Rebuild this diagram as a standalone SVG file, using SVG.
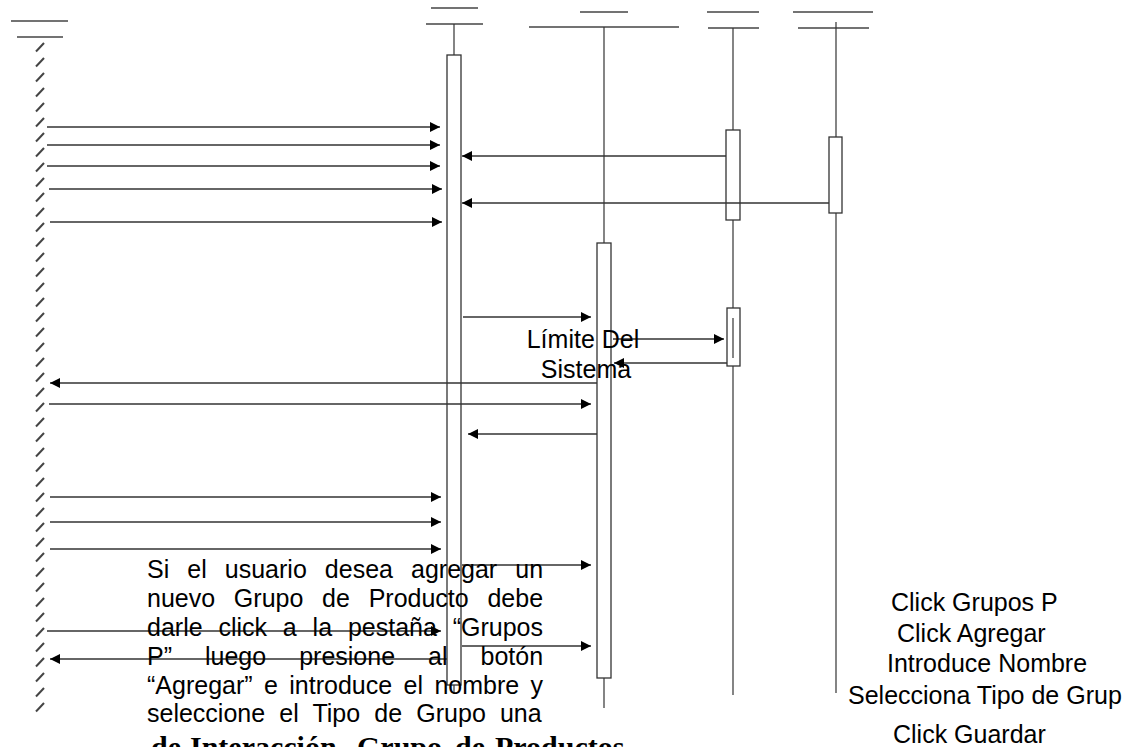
<svg xmlns="http://www.w3.org/2000/svg" width="1125" height="747" viewBox="0 0 1125 747">
<style>
.hd{stroke:#444;stroke-width:1.3;fill:none}
.ll{stroke:#333;stroke-width:1.2;fill:none}
.act{fill:#fff;stroke:#333;stroke-width:1.3}
.msg{stroke:#333;stroke-width:1.3;fill:none;marker-end:url(#ah)}
.t{font-family:"Liberation Sans",Arial,sans-serif;font-size:25px;fill:#000}
.cap{font-family:"Liberation Serif","Times New Roman",serif;font-size:30px;font-weight:bold;fill:#000}
</style>
<defs>
<marker id="ah" markerUnits="userSpaceOnUse" markerWidth="11" markerHeight="11" refX="10" refY="5" orient="auto">
<path d="M0,0 L10,5 L0,10 z" fill="#000"/>
</marker>
<pattern id="hatch" patternUnits="userSpaceOnUse" x="35" y="40" width="10" height="15">
<line x1="1" y1="11.5" x2="9" y2="3" stroke="#444" stroke-width="2"/>
</pattern>
</defs>
<rect width="1125" height="747" fill="#fff"/>

<g id="actor">
<line class="hd" x1="11" y1="21" x2="68" y2="21"/>
<line class="hd" x1="17" y1="37" x2="63" y2="37"/>
<rect x="35" y="40" width="10" height="676" fill="url(#hatch)"/>
</g>

<g id="lifeline2">
<line class="hd" x1="431" y1="8" x2="478" y2="8"/>
<line class="hd" x1="426" y1="24" x2="483" y2="24"/>
<line class="ll" x1="454" y1="24" x2="454" y2="693"/>
<rect class="act" x="447" y="55" width="14" height="630"/>
</g>

<g id="lifeline3">
<line class="hd" x1="580" y1="12" x2="628" y2="12"/>
<line class="hd" x1="529" y1="27" x2="679" y2="27"/>
<line class="ll" x1="604" y1="27" x2="604" y2="708"/>
<rect class="act" x="597" y="243" width="14" height="435"/>
</g>

<g id="lifeline4">
<line class="hd" x1="707" y1="12" x2="759" y2="12"/>
<line class="hd" x1="708" y1="28" x2="759" y2="28"/>
<line class="ll" x1="733" y1="28" x2="733" y2="695"/>
<rect class="act" x="726" y="130" width="14" height="90"/>
<rect class="act" x="727" y="308" width="13" height="58"/>
<line class="ll" x1="733" y1="318" x2="733" y2="358"/>
</g>

<g id="lifeline5">
<line class="hd" x1="793" y1="12" x2="873" y2="12"/>
<line class="hd" x1="798" y1="28" x2="869" y2="28"/>
<line class="ll" x1="836" y1="22" x2="836" y2="693"/>
<rect class="act" x="829" y="137" width="13" height="76"/>
</g>

<g id="connectors">
<line class="msg" x1="47" y1="127" x2="440" y2="127"/>
<line class="msg" x1="47" y1="145" x2="440" y2="145"/>
<line class="msg" x1="47" y1="166" x2="440" y2="166"/>
<line class="msg" x1="49" y1="189" x2="442" y2="189"/>
<line class="msg" x1="50" y1="222" x2="442" y2="222"/>
<line class="msg" x1="726" y1="156" x2="462" y2="156"/>
<line class="msg" x1="829" y1="203" x2="462" y2="203"/>
<line class="msg" x1="463" y1="317" x2="591" y2="317"/>
<line class="msg" x1="613" y1="339" x2="724" y2="339"/>
<line class="msg" x1="727" y1="363" x2="614" y2="363"/>
<line class="msg" x1="597" y1="383" x2="50" y2="383"/>
<line class="msg" x1="49" y1="404" x2="591" y2="404"/>
<line class="msg" x1="597" y1="434" x2="468" y2="434"/>
<line class="msg" x1="50" y1="497" x2="441" y2="497"/>
<line class="msg" x1="50" y1="522" x2="441" y2="522"/>
<line class="msg" x1="50" y1="549" x2="441" y2="549"/>
<line class="msg" x1="462" y1="565" x2="591" y2="565"/>
<line class="msg" x1="47" y1="631" x2="441" y2="631"/>
<line class="msg" x1="462" y1="646" x2="591" y2="646"/>
<line class="msg" x1="447" y1="659" x2="50" y2="659"/>
</g>

<g id="limite">
<text class="t" x="583" y="348" text-anchor="middle">Límite Del</text>
<text class="t" x="586" y="378" text-anchor="middle">Sistema</text>
</g>

<g id="nota">
<text class="t" x="147" y="578" word-spacing="11.11">Si el usuario desea agregar un</text>
<text class="t" x="147" y="607" word-spacing="11.8">nuevo Grupo de Producto debe</text>
<text class="t" x="147" y="636" word-spacing="8.89">darle click a la pestaña “Grupos</text>
<text class="t" x="147" y="665" word-spacing="26.05">P” luego presione al botón</text>
<text class="t" x="147" y="694" word-spacing="4.45">“Agregar” e introduce el nombre y</text>
<text class="t" x="147" y="722" word-spacing="7.22">seleccione el Tipo de Grupo una</text>
</g>

<g id="pasos">
<text class="t" x="891" y="611">Click Grupos P</text>
<text class="t" x="897" y="642">Click Agregar</text>
<text class="t" x="887" y="672">Introduce Nombre</text>
<text class="t" x="848" y="704">Selecciona Tipo de Grup</text>
<text class="t" x="893" y="743">Click Guardar</text>
</g>

<text class="cap" y="757"><tspan x="151">de</tspan><tspan x="190">Interacción</tspan><tspan x="357">Grupo</tspan><tspan x="455">de</tspan><tspan x="495">Productos</tspan></text>
</svg>
